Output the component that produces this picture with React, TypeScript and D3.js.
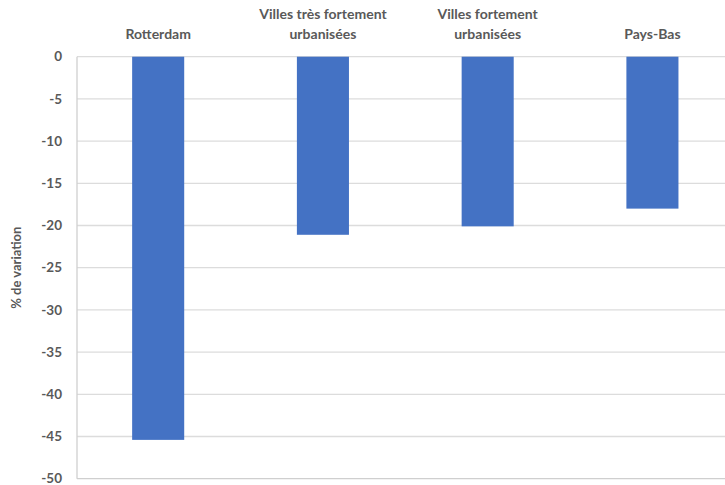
import React from "react";
import * as d3 from "d3";

const categories: string[][] = [
  ["Rotterdam"],
  ["Villes très fortement", "urbanisées"],
  ["Villes fortement", "urbanisées"],
  ["Pays-Bas"],
];
const values: number[] = [-45.4, -21.1, -20.1, -18.0];
const yTicks: number[] = [0, -5, -10, -15, -20, -25, -30, -35, -40, -45, -50];
const yTitle = "% de variation";

export default function App() {
  const W = 725;
  const H = 485;
  const axisX = 77;
  const left = 75.8;
  const right = 734.8;
  const top = 56.7;
  const bottom = 478.7;
  const font = "Lato, 'Open Sans', sans-serif";
  const textColor = "#595959";

  const x = d3
    .scaleBand<number>()
    .domain(categories.map((_, i) => i))
    .range([left, right])
    .padding(0);
  const y = d3.scaleLinear().domain([0, -50]).range([top, bottom]);
  const barW = x.bandwidth() * 0.316;

  return (
    <svg
      width={W}
      height={H}
      style={{ position: "absolute", left: 0, top: 0, background: "#fff" }}
    >
      {yTicks.map((t) => (
        <line
          key={"g" + t}
          x1={axisX}
          x2={W + 10}
          y1={y(t)}
          y2={y(t)}
          stroke={t === -50 ? "#cfcfcf" : "#dcdcdc"}
          strokeWidth={1.3}
        />
      ))}
      <line x1={axisX} x2={axisX} y1={top} y2={bottom} stroke="#cfcfcf" strokeWidth={1.3} />
      {values.map((v, i) => (
        <rect
          key={"b" + i}
          x={(x(i) as number) + x.bandwidth() / 2 - barW / 2}
          y={y(0)}
          width={barW}
          height={y(v) - y(0)}
          fill="#4472C4"
        />
      ))}
      {yTicks.map((t) => (
        <text
          key={"t" + t}
          x={62}
          y={y(t)}
          dy="0.35em"
          textAnchor="end"
          fontFamily={font}
          fontWeight="bold"
          fontSize={13.5}
          fill={textColor}
        >
          {t}
        </text>
      ))}
      {categories.map((lines, i) => {
        const cx = (x(i) as number) + x.bandwidth() / 2;
        const baseY = 39;
        return (
          <text
            key={"c" + i}
            x={cx}
            textAnchor="middle"
            fontFamily={font}
            fontWeight="bold"
            fontSize={14}
            fill={textColor}
          >
            {lines.map((l, j) => (
              <tspan key={j} x={cx} y={baseY - (lines.length - 1 - j) * 20}>
                {l}
              </tspan>
            ))}
          </text>
        );
      })}
      <text
        transform={`translate(21, ${(top + bottom) / 2}) rotate(-90)`}
        textAnchor="middle"
        fontFamily={font}
        fontWeight="bold"
        fontSize={13}
        fill={textColor}
      >
        {yTitle}
      </text>
    </svg>
  );
}
